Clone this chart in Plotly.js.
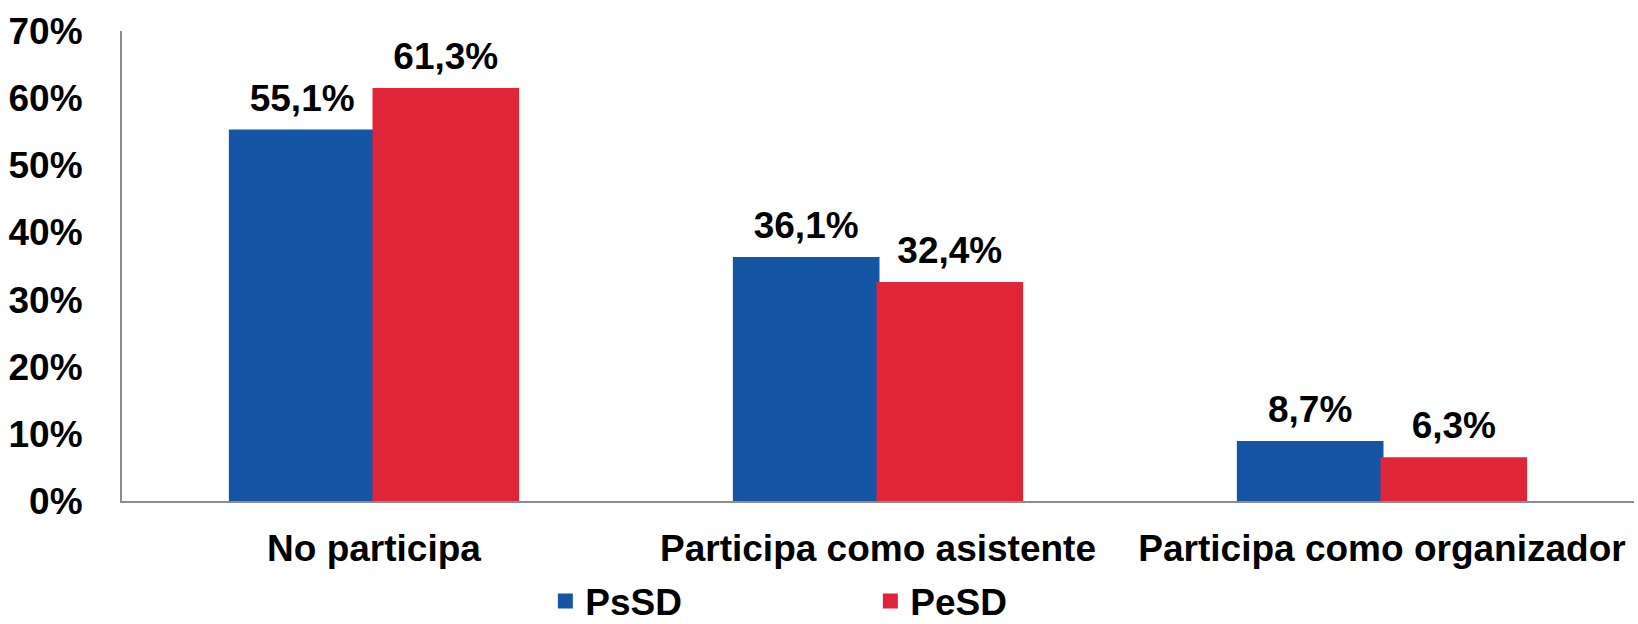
<!DOCTYPE html>
<html>
<head>
<meta charset="utf-8">
<script src="https://cdn.plot.ly/plotly-3.0.1.min.js"></script>
<style>html,body{margin:0;padding:0;background:#fff;}#chart{width:1638px;height:624px;}</style>
</head>
<body>
<div id="chart"></div>
<script>
const categories = ["No participa", "Participa como asistente", "Participa como organizador"];
const psSD = [55.1, 36.1, 8.7];
const peSD = [61.3, 32.4, 6.3];
const seriesNames = ["PsSD", "PeSD"];
const seriesColors = ["#1555A5", "#E02539"];
const yTickVals = [0, 10, 20, 30, 40, 50, 60, 70];
const yTickText = ["0%", "10%", "20%", "30%", "40%", "50%", "60%", "70%"];

const fmt = v => v.toFixed(1).replace(".", ",") + "%";
const FONT = "Liberation Sans, Arial, sans-serif";
const FS = 37;
const mkFont = () => ({family: FONT, size: FS, color: "#000", weight: "bold"});

const series = [psSD, peSD];
const traces = [];
series.forEach((vals, i) => {
  traces.push({type: "bar", name: seriesNames[i], x: categories, y: vals,
    marker: {color: seriesColors[i], line: {color: seriesColors[i], width: 3}},
    hoverinfo: "none"});
});
series.forEach((vals, i) => {
  traces.push({type: "scatter", mode: "markers+text", showlegend: false,
    x: categories, y: vals, text: vals.map(fmt), textposition: "top center",
    textfont: mkFont(), marker: {size: 16, opacity: 0, color: seriesColors[i]},
    cliponaxis: false, hoverinfo: "none"});
});

const layout = {
  width: 1638, height: 624,
  margin: {l: 122, r: 4, t: 31, b: 123},
  paper_bgcolor: "#fff", plot_bgcolor: "#fff",
  barmode: "group", bargap: 0.43, bargroupgap: 0,
  scattermode: "group", scattergap: 0.43,
  font: mkFont(),
  xaxis: {showline: true, linecolor: "#8c8c8c", linewidth: 2, ticks: "",
          showgrid: false, zeroline: false, ticklabelstandoff: 14, automargin: false,
          tickfont: mkFont()},
  yaxis: {range: [0, 70], tickvals: yTickVals, ticktext: yTickText,
          showline: true, linecolor: "#8c8c8c", linewidth: 2, ticks: "",
          showgrid: false, zeroline: false, ticklabelstandoff: 30, automargin: false,
          tickfont: mkFont()},
  showlegend: true,
  legend: {orientation: "h", x: 0.28, xanchor: "left", yref: "container", y: 0.086, yanchor: "top",
           entrywidth: 280, font: mkFont(), bgcolor: "rgba(0,0,0,0)"}
};

Plotly.newPlot("chart", traces, layout, {displayModeBar: false, staticPlot: true});
</script>
</body>
</html>
